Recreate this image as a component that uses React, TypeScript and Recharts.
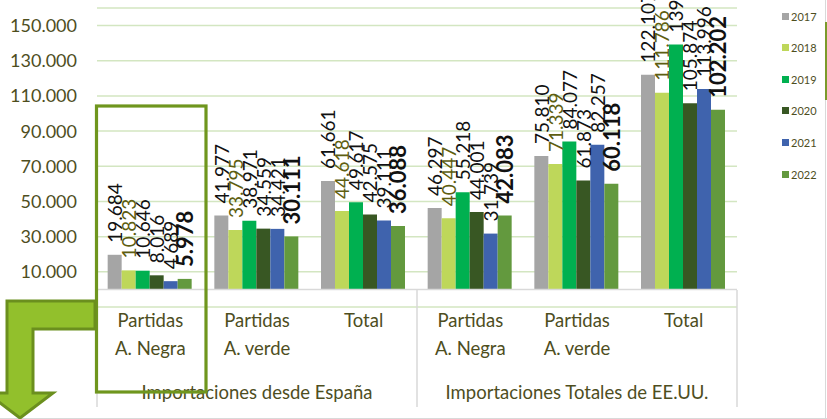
import React from "react";
import { BarChart, Bar, XAxis, YAxis, CartesianGrid, LabelList, ReferenceLine } from "recharts";

const categories = ["Partidas\nA. Negra", "Partidas\nA. verde", "Total", "Partidas\nA. Negra", "Partidas\nA. verde", "Total"];
const groups = ["Importaciones desde España", "Importaciones Totales de EE.UU."];
const groupOfCategory = [0, 0, 0, 1, 1, 1];

const years = ["2017", "2018", "2019", "2020", "2021", "2022"];
const v2017 = [19684, 41977, 61661, 46297, 75810, 122107];
const v2018 = [10823, 33795, 44618, 40447, 71339, 111786];
const v2019 = [10646, 38971, 49617, 55218, 84077, 139295];
const v2020 = [8016, 34559, 42575, 44001, 61873, 105874];
const v2021 = [4689, 34421, 39111, 31739, 82257, 113996];
const v2022 = [5978, 30111, 36088, 42083, 60118, 102202];

const yTicks = [-10000, 10000, 30000, 50000, 70000, 90000, 110000, 130000, 150000];

const seriesValues = [v2017, v2018, v2019, v2020, v2021, v2022];
const colors = ["#a5a5a5", "#bed75a", "#00b050", "#385723", "#3f63ad", "#63993e"];
const labelColors = ["#111111", "#5e5e10", "#111111", "#111111", "#111111", "#111111"];

const data = categories.map((name, i) => {
  const row: any = { name, group: groups[groupOfCategory[i]] };
  years.forEach((y, k) => {
    row["y" + y] = seriesValues[k][i];
  });
  return row;
});

const fmt = (v: number) => {
  const s = Math.abs(Math.round(v)).toString().replace(/\B(?=(\d{3})+(?!\d))/g, ".");
  return (v < 0 ? "-" : "") + s;
};

const FONT = "Lato, 'Liberation Sans', sans-serif";
const AXIS_COLOR = "#4e4e1e";

const makeLabel = (k: number) => (props: any) => {
  const { x, y, width, value } = props;
  const cx = Number(x) + Number(width) / 2;
  const ty = Number(y) - 12;
  const bold = k === 5;
  return (
    <text
      x={cx}
      y={ty}
      transform={`rotate(-90, ${cx}, ${ty})`}
      textAnchor="start"
      dominantBaseline="central"
      fontFamily={FONT}
      fontSize={bold ? 22 : 19}
      fontWeight={bold ? 700 : 400}
      fill={labelColors[k]}
    >
      {fmt(Number(value))}
    </text>
  );
};

const CategoryTick = (props: any) => {
  const { x, y, payload, index } = props;
  const half = payload && payload.offset ? payload.offset : 53.33;
  const lines = String(payload.value).split("\n");
  const idx = typeof index === "number" ? index : payload.index;
  const sepTop = y - 17;
  const sepBottom = y + 100;
  return (
    <g>
      {lines.map((l, i) => (
        <text key={i} x={x} y={y + 20 + i * 28} textAnchor="middle" fontFamily={FONT} fontSize={18.5} fill={AXIS_COLOR}>
          {l}
        </text>
      ))}
      {(idx === 1 || idx === 4) && (
        <text x={x} y={y + 92} textAnchor="middle" fontFamily={FONT} fontSize={18.5} fill={AXIS_COLOR}>
          {groups[groupOfCategory[idx]]}
        </text>
      )}
      {idx === 0 && <line x1={x - half} x2={x - half} y1={sepTop} y2={sepBottom} stroke="#d9d9d9" strokeWidth={1.5} />}
      {(idx === 2 || idx === 5) && <line x1={x + half} x2={x + half} y1={sepTop} y2={sepBottom} stroke="#d9d9d9" strokeWidth={1.5} />}
    </g>
  );
};

const Legend = () => (
  <div style={{ position: "absolute", left: 0, top: 0 }}>
    {years.map((y, i) => (
      <div key={y} style={{ position: "absolute", left: 782, top: 16 + i * 31.6 - 8, height: 16, display: "flex", alignItems: "center", whiteSpace: "nowrap" }}>
        <span style={{ display: "inline-block", width: 7, height: 7, background: colors[i], marginRight: 2 }} />
        <span style={{ fontFamily: FONT, fontSize: 11, color: "#4e4e1e" }}>{y}</span>
      </div>
    ))}
  </div>
);

const Overlay = () => (
  <svg width={827} height={419} style={{ position: "absolute", left: 0, top: 0, pointerEvents: "none" }}>
    <line x1={825.5} x2={825.5} y1={0} y2={419} stroke="#d9d9d9" strokeWidth={1} />
    <line x1={0} x2={827} y1={418.5} y2={418.5} stroke="#d9d9d9" strokeWidth={1} />
    <rect x={825} y={22} width={3} height={78} fill="#7a9a2a" />
    <rect x={96.5} y={106} width={109.5} height={286} fill="none" stroke="#6f961e" strokeWidth={3.2} />
    <polygon
      points="95,301 7,301 7,393 -13,393 20,418 53,393 33,393 33,329 95,329"
      fill="#92c02c"
      stroke="#6b8f1e"
      strokeWidth={3}
      strokeLinejoin="miter"
    />
  </svg>
);

export default function App() {
  return (
    <div style={{ position: "absolute", left: 0, top: 0, width: 827, height: 419, background: "#ffffff", overflow: "hidden" }}>
      <BarChart
        width={827}
        height={419}
        data={data}
        margin={{ top: 8, right: 90, bottom: 12, left: 7 }}
        barCategoryGap="10%"
        barGap={0}
      >
        <CartesianGrid horizontal={true} vertical={false} stroke="#d3e6c1" strokeWidth={1.5} />
        <YAxis
          type="number"
          domain={[-10000, 160000]}
          ticks={yTicks}
          interval={0}
          width={90}
          axisLine={false}
          tickLine={false}
          tickSize={0}
          tickMargin={20}
          tickFormatter={(v: number) => fmt(v)}
          tick={{ fontFamily: FONT, fontSize: 18, fill: AXIS_COLOR }}
        />
        <XAxis
          dataKey="name"
          height={100}
          axisLine={false}
          tickLine={false}
          tickSize={0}
          tickMargin={0}
          interval={0}
          tick={<CategoryTick />}
        />
        <ReferenceLine y={0} stroke="#d9d9d9" strokeWidth={1.5} />
        {years.map((y, k) => (
          <Bar key={y} dataKey={"y" + y} name={y} fill={colors[k]} isAnimationActive={false}>
            <LabelList dataKey={"y" + y} content={makeLabel(k)} />
          </Bar>
        ))}
      </BarChart>
      <Legend />
      <Overlay />
    </div>
  );
}
